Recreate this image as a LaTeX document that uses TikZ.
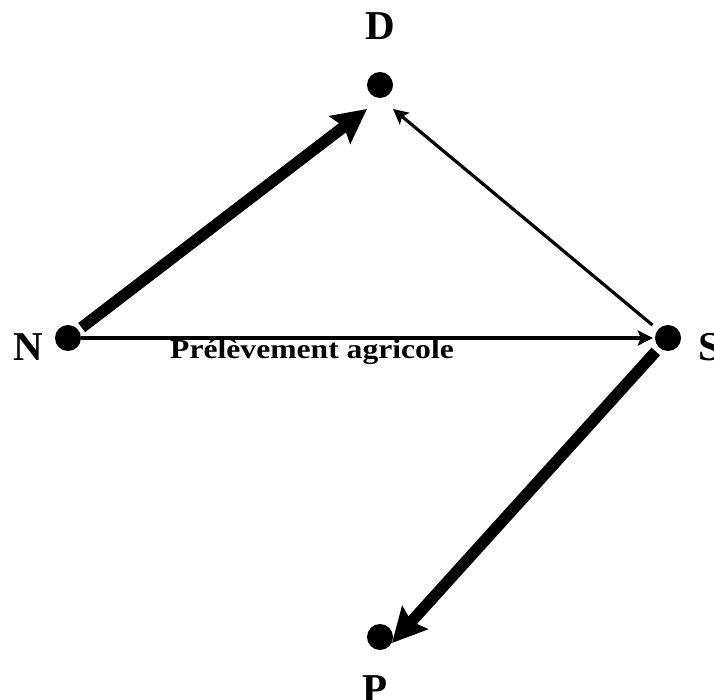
\documentclass[tikz,border=0pt]{standalone}
\usepackage{fontspec}
\setmainfont{Liberation Serif}
\usetikzlibrary{arrows.meta,calc}
\begin{document}
\begin{tikzpicture}[x=1pt,y=-1pt,
  dot/.style={circle,fill=black,inner sep=0pt,minimum size=26pt},
  lab/.style={inner sep=0pt,font=\fontsize{41}{44}\selectfont\bfseries},
  thickarrow/.style={line width=11.5pt,-{Stealth[length=34pt,width=34pt,inset=5pt]}},
  thinarrow/.style={line width=3.2pt,-{Stealth[length=15pt,width=15pt,inset=3pt]}}]
\useasboundingbox (0,0) rectangle (714,700);
\fill[white] (0,0) rectangle (714,700);
\node[dot] (N) at (68,338) {};
\node[dot] (S) at (668,338) {};
\node[dot] (D) at (380,85) {};
\node[dot] (P) at (380,637) {};
\node[lab,anchor=base] (lD) at (380,40) {D};
\node[lab,anchor=base] (lN) at (28,360) {N};
\node[lab,anchor=base west] (lS) at (698,360) {S};
\node[lab,anchor=base] (lP) at (375,702) {P};
\draw[thickarrow,shorten <=4pt] (N) -- ($(D)+(-13,24)$);
\draw[thinarrow,shorten <=7pt] (S) -- ($(D)+(13,24)$);
\draw[thinarrow,shorten >=2pt] (N) -- (S);
\draw[thickarrow,shorten <=5pt] (S) -- ($(P)+(12,6)$);
\node[inner sep=0pt,anchor=base west,xscale=1.15,font=\fontsize{27.5}{30}\selectfont\bfseries] (lab) at (170,358) {Prélèvement agricole};
\end{tikzpicture}
\end{document}
